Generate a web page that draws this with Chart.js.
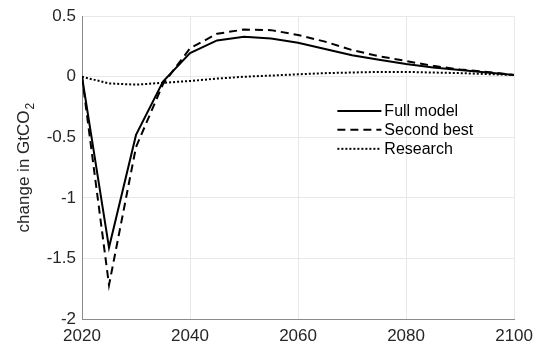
<!DOCTYPE html>
<html>
<head>
<meta charset="utf-8">
<script src="https://cdn.jsdelivr.net/npm/chart.js@4"></script>
<style>
  html, body { margin: 0; padding: 0; background: #fff; }
  #wrap { width: 540px; height: 350px; }
</style>
</head>
<body>
<div id="wrap"><canvas id="chart" width="540" height="350"></canvas></div>
<script>
// values (every 5 years)
const years = [2020, 2025, 2030, 2035, 2040, 2045, 2050, 2055, 2060, 2065, 2070, 2075, 2080, 2085, 2090, 2095, 2100];
const fullModel = [0, -1.41, -0.48, -0.04, 0.195, 0.30, 0.33, 0.315, 0.28, 0.23, 0.178, 0.14, 0.105, 0.077, 0.055, 0.035, 0.015];
const secondBest = [0, -1.72, -0.58, -0.06, 0.235, 0.355, 0.39, 0.385, 0.345, 0.29, 0.22, 0.17, 0.13, 0.09, 0.06, 0.04, 0.015];
const research = [0, -0.055, -0.065, -0.05, -0.035, -0.015, 0.0, 0.01, 0.02, 0.03, 0.035, 0.04, 0.04, 0.035, 0.03, 0.022, 0.015];
const seriesNames = ['Full model', 'Second best', 'Research'];
const xTicks = [2020, 2040, 2060, 2080, 2100];
const yTicks = [0.5, 0, -0.5, -1, -1.5, -2];
const yTickLabels = ['0.5', '0', '-0.5', '-1', '-1.5', '-2'];

const FONT = '"Liberation Sans", Arial, sans-serif';

function pts(vals) {
  return years.map(function(y, i) { return { x: y, y: vals[i] }; });
}

// legend inside the plot, like the original
const innerLegend = {
  id: 'innerLegend',
  afterDatasetsDraw: function(chart) {
    const ctx = chart.ctx;
    const a = chart.chartArea;
    const x0 = a.left + (a.right - a.left) * 0.591;
    const x1 = x0 + 44;
    const rows = [0.313, 0.375, 0.438];
    ctx.save();
    ctx.font = '16px ' + FONT;
    ctx.textBaseline = 'middle';
    ctx.fillStyle = '#000';
    chart.data.datasets.forEach(function(ds, i) {
      const y = a.top + (a.bottom - a.top) * rows[i];
      ctx.strokeStyle = ds.borderColor;
      ctx.lineWidth = ds.borderWidth;
      ctx.setLineDash(ds.borderDash || []);
      ctx.beginPath();
      ctx.moveTo(x0, y);
      ctx.lineTo(x1, y);
      ctx.stroke();
      ctx.fillText(ds.label, x1 + 3, y + 1);
    });
    ctx.restore();
  }
};

// y title with subscript 2
const yTitle = {
  id: 'yTitle',
  afterDraw: function(chart) {
    const ctx = chart.ctx;
    const a = chart.chartArea;
    const main = 'change in GtCO';
    ctx.save();
    ctx.font = '17px ' + FONT;
    const w1 = ctx.measureText(main).width;
    ctx.font = '12px ' + FONT;
    const w2 = ctx.measureText('2').width;
    const total = w1 + w2 + 1;
    ctx.translate(24, (a.top + a.bottom) / 2);
    ctx.rotate(-Math.PI / 2);
    ctx.fillStyle = '#262626';
    ctx.textBaseline = 'middle';
    ctx.font = '17px ' + FONT;
    ctx.fillText(main, -total / 2, 0);
    ctx.font = '12px ' + FONT;
    ctx.fillText('2', -total / 2 + w1 + 1, 7);
    ctx.restore();
  }
};

new Chart(document.getElementById('chart').getContext('2d'), {
  type: 'line',
  data: {
    datasets: [{
      label: seriesNames[0],
      data: pts(fullModel),
      borderColor: '#000',
      borderWidth: 2,
      pointRadius: 0,
      tension: 0,
      fill: false
    }, {
      label: seriesNames[1],
      data: pts(secondBest),
      borderColor: '#000',
      borderWidth: 2,
      borderDash: [8, 5],
      pointRadius: 0,
      tension: 0,
      fill: false
    }, {
      label: seriesNames[2],
      data: pts(research),
      borderColor: '#000',
      borderWidth: 2,
      borderDash: [2, 2],
      pointRadius: 0,
      tension: 0,
      fill: false
    }]
  },
  options: {
    responsive: false,
    animation: false,
    layout: { padding: { top: 16, right: 23, left: 0, bottom: 0 } },
    plugins: {
      legend: { display: false },
      tooltip: { enabled: false }
    },
    scales: {
      x: {
        type: 'linear',
        min: 2020,
        max: 2100,
        afterBuildTicks: function(scale) {
          scale.ticks = xTicks.map(function(v) { return { value: v }; });
        },
        afterFit: function(scale) { scale.height = 31; },
        grid: { color: '#e8e8e8', lineWidth: 1, drawTicks: false },
        border: { color: '#8a8a8a', width: 1 },
        ticks: {
          padding: 7,
          maxRotation: 0,
          color: '#262626',
          font: { family: FONT, size: 17 },
          callback: function(v) { return String(v); }
        }
      },
      y: {
        min: -2,
        max: 0.5,
        afterBuildTicks: function(scale) {
          scale.ticks = yTicks.map(function(v) { return { value: v }; });
        },
        afterFit: function(scale) { scale.width = 82; },
        grid: { color: '#e8e8e8', lineWidth: 1, drawTicks: false },
        border: { color: '#8a8a8a', width: 1 },
        ticks: {
          padding: 6,
          color: '#262626',
          font: { family: FONT, size: 17 },
          callback: function(v) { return yTickLabels[yTicks.indexOf(v)]; }
        }
      }
    }
  },
  plugins: [innerLegend, yTitle]
});
</script>
</body>
</html>
